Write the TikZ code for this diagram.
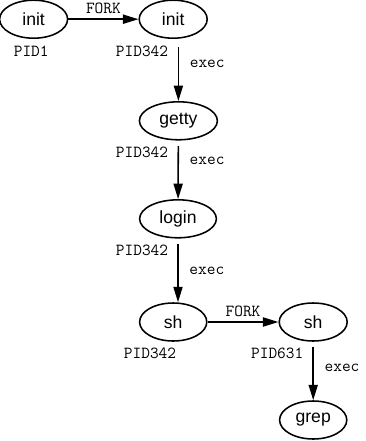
\documentclass[tikz,border=0pt]{standalone}
\usepackage{fontspec}
\setmainfont{Liberation Sans}
\usetikzlibrary{shapes.geometric,arrows.meta}
\begin{document}
\begin{tikzpicture}[every node/.style={font=\fontsize{12.5}{14}\selectfont},
  proc/.style={draw,ellipse,line width=1.1pt,minimum width=1.70cm,minimum height=0.95cm,inner sep=0pt},
  pid/.style={font=\fontsize{12}{14}\selectfont\ttfamily},
  link/.style={-{Triangle[length=11pt,width=6.5pt]},line width=1.1pt}]
\useasboundingbox (0,0) rectangle (9.15,-11.025);
\node[proc] (init1) at (0.84,-0.48) {init};
\node[proc] (init2) at (4.33,-0.48) {init};
\node[proc,minimum width=1.95cm] (getty) at (4.46,-3.02) {getty};
\node[proc,minimum width=1.92cm] (login) at (4.45,-5.47) {login};
\node[proc,minimum width=1.68cm] (sh1) at (4.33,-8.05) {sh};
\node[proc] (sh2) at (7.83,-8.05) {sh};
\node[proc,minimum width=1.68cm] (grep) at (7.83,-10.5) {grep};
% process ids
\node[pid] (pid1) at (0.78,-1.28) {PID1};
\node[pid] (pid2) at (3.55,-1.28) {PID342};
\node[pid] (pid3) at (3.55,-3.80) {PID342};
\node[pid] (pid4) at (3.55,-6.25) {PID342};
\node[pid] (pid5) at (3.75,-8.83) {PID342};
\node[pid] (pid6) at (6.93,-8.83) {PID631};
% fork / exec
\draw[link] (init1) -- (init2) node[midway,above,pid] (fork1) {FORK};
\draw[link,shorten <=6pt] (init2.south -| getty) -- (getty.north) node[pos=0.4,right=0.15cm,pid] (exec1) {exec};
\draw[link,shorten <=4pt] (getty) -- (login) node[pos=0.34,right=0.15cm,pid] (exec2) {exec};
\draw[link,shorten <=4pt] (login.south) -- (login.south |- sh1.north) node[pos=0.5,right=0.15cm,pid] (exec3) {exec};
\draw[link] (sh1) -- (sh2) node[midway,above,pid] (fork2) {FORK};
\draw[link,shorten <=4pt] (sh2) -- (grep) node[pos=0.44,right=0.15cm,pid] (exec4) {exec};
\end{tikzpicture}
\end{document}
